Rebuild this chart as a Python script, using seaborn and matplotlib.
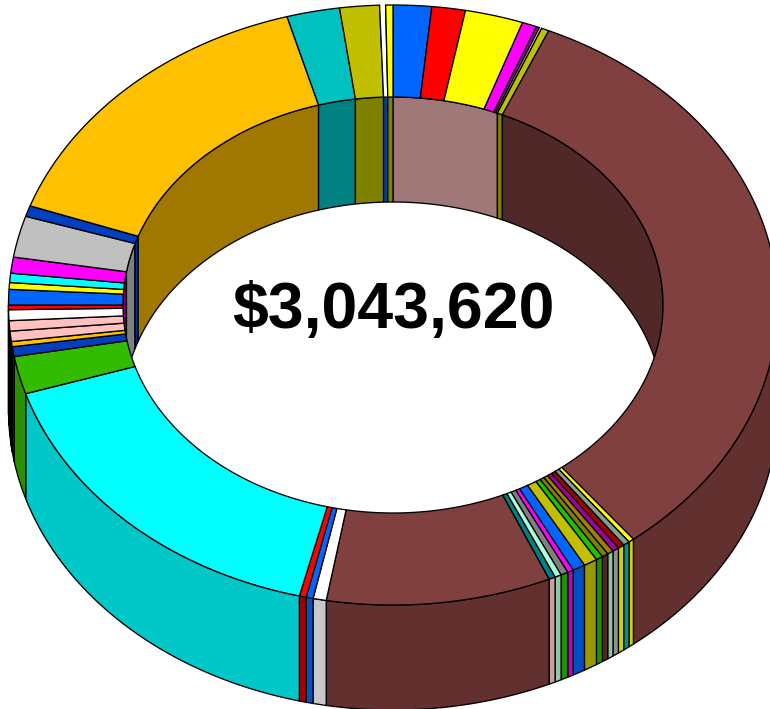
import numpy as np
import matplotlib
matplotlib.use("Agg")
import matplotlib.pyplot as plt
import seaborn as sns
from itertools import groupby

TOTAL_LABEL = "$3,043,620"

# Slice amounts, clockwise from twelve o'clock
values = [
    49036, 42865, 74653, 18600, 4227, 2959, 9723, 992558,
    7102, 8370, 8285, 8370, 8032, 8032, 8962, 17585, 16402, 7524, 9385, 8370, 8285,
    287032, 16909, 8962, 8793, 496279, 61718, 16064, 8454, 16909, 16909, 17754,
    7609, 25363, 10991, 15218, 26209, 67636, 17754, 462461, 67636, 50727, 7609, 9300,
]

top_colors = [
    "#0066FF", "#FF0000", "#FFFF00", "#FF00FF", "#A000A0", "#FFFFFF", "#C0C000", "#804040",
    "#FFFF00", "#7F9F8F", "#A00000", "#A000A0", "#A08000", "#808000", "#20C000", "#C0C000",
    "#0066FF", "#FF00FF", "#808080", "#A8FFD8", "#008080",
    "#804040", "#FFFFFF", "#0066FF", "#FF0000", "#00FFFF", "#33BB00", "#0040C0", "#FFC000",
    "#FFC0C0", "#FFC0C0", "#FFFFFF", "#FF0000", "#0066FF", "#FFFF00", "#00FFFF", "#FF00FF",
    "#C0C0C0", "#0040C0", "#FFC000", "#00C0C0", "#C0C000", "#FFFFFF", "#FFFF00",
]

side_colors = [
    "#A07878", "#A07878", "#A07878", "#A07878", "#A07878", "#A07878", "#7F7F00", "#633030",
    "#D0D000", "#009090", "#D0D000", "#909090", "#90C0A0", "#502828", "#209000", "#989800",
    "#0050C0", "#C000C0", "#209000", "#90C8A8", "#C8A0A0",
    "#633030", "#C8C8C8", "#0050C8", "#A00000", "#00C8C8", "#2A9000", "#002A80", "#101010",
    "#101010", "#101010", "#101010", "#101010", "#800080", "#800080", "#800080", "#800080",
    "#808080", "#0030A0", "#A07800", "#008080", "#7F7F00", "#0040A0", "#808000",
]

# The large brown slice shows a darker shade on the hole side of the ring
inner_colors = list(side_colors)
inner_colors[7] = "#502828"

# Narrow white slices near the top carry no rim line
open_rim = {5, 42}

# Ring geometry in figure pixels
CX, CY = 393.0, 305.0
OUTER_RX, OUTER_RY = 384.5, 300.0
INNER_RX, INNER_RY = 270.0, 208.0
DEPTH = 105.0
LINE = 0.95
EDGE = dict(edgecolor="black", linewidth=LINE, joinstyle="miter")

sns.set_theme(style="white")
plt.rcParams["font.family"] = ["Liberation Sans", "DejaVu Sans"]

fig = plt.figure(figsize=(7.7, 7.09), dpi=100, facecolor="white")
ax = fig.add_axes([0, 0, 1, 1])
ax.set_xlim(0, 770)
ax.set_ylim(709, 0)
ax.axis("off")
sns.despine(ax=ax, left=True, bottom=True)


def arc(t0, t1, rx, ry, dy=0.0):
    """Points along an ellipse for clockwise angles measured from the top."""
    t = np.radians(np.linspace(t0, t1, max(int(abs(t1 - t0) * 2), 2) + 1))
    return CX + rx * np.sin(t), CY + dy - ry * np.cos(t)


def band(t0, t1, rx, ry, color, zorder):
    """Vertical wall hanging below one elliptical arc."""
    x, y = arc(t0, t1, rx, ry)
    xb, yb = arc(t1, t0, rx, ry, DEPTH)
    ax.fill(np.r_[x, xb], np.r_[y, yb], facecolor=color, zorder=zorder, **EDGE)


edges = np.cumsum([0] + values) / sum(values) * 360.0
slices = list(zip(edges[:-1], edges[1:], side_colors, inner_colors))

# Hole wall: only the far half of the ring faces the viewer, and neighbouring
# slices of one shade share a single panel
for color, run in groupby(slices, key=lambda s: s[3]):
    run = list(run)
    start, end = run[0][0], run[-1][1]
    for a, b in ((0, 90), (270, 360)):
        lo, hi = max(start, a), min(end, b)
        if hi > lo:
            band(lo, hi, INNER_RX, INNER_RY, color, 1)

# Outer wall: only the near half
for start, end, side, _ in slices:
    lo, hi = max(start, 90), min(end, 270)
    if hi > lo:
        band(lo, hi, OUTER_RX, OUTER_RY, side, 2)

for i, (start, end, top) in enumerate(zip(edges[:-1], edges[1:], top_colors)):
    xo, yo = arc(start, end, OUTER_RX, OUTER_RY)
    xi, yi = arc(end, start, INNER_RX, INNER_RY)
    if i in open_rim:
        ax.fill(np.r_[xo, xi], np.r_[yo, yi], facecolor=top, edgecolor="none", zorder=3)
        ax.plot(np.r_[xo[-1], xi, xo[0]], np.r_[yo[-1], yi, yo[0]], color="black",
                linewidth=LINE, zorder=3)
    else:
        ax.fill(np.r_[xo, xi], np.r_[yo, yi], facecolor=top, zorder=3, **EDGE)

ax.text(CX, CY, TOTAL_LABEL, ha="center", va="center_baseline", fontsize=46.4,
        fontweight="bold", color="black", zorder=5)

fig.savefig("out.png", dpi=100)
